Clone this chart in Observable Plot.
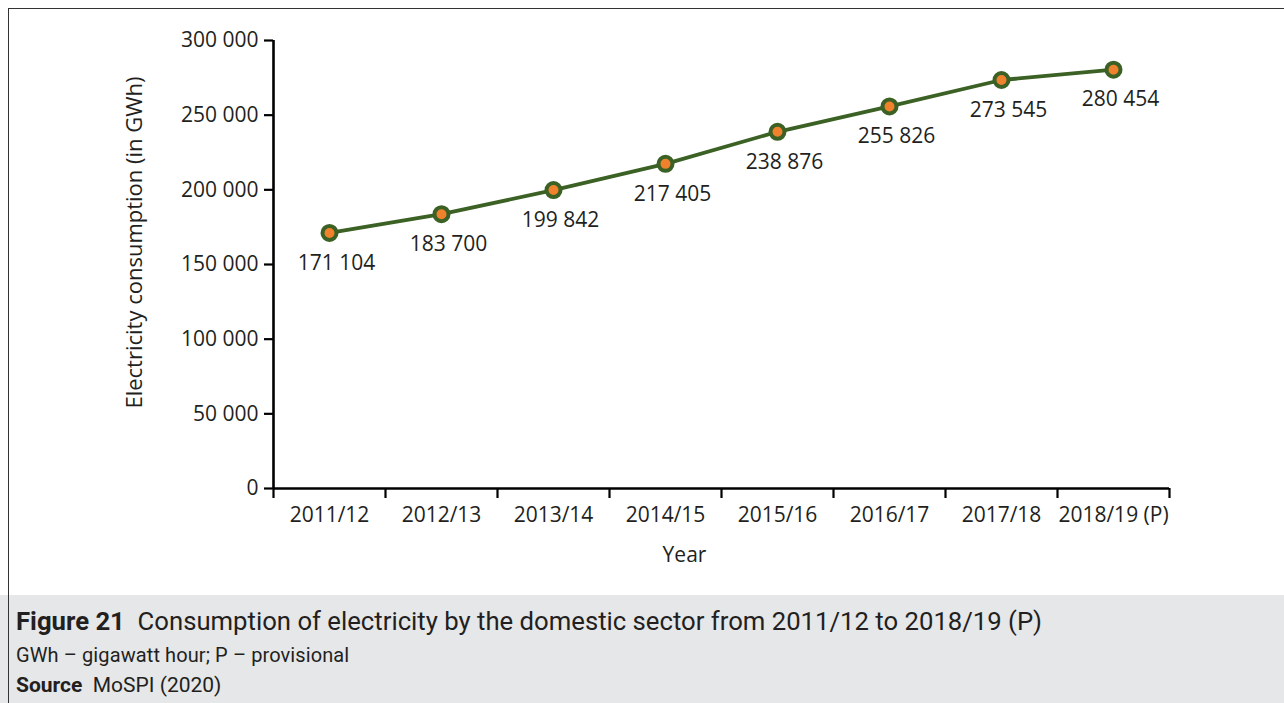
<!DOCTYPE html>
<html>
<head>
<meta charset="utf-8">
<script src="https://cdn.jsdelivr.net/npm/d3@7"></script>
<script src="https://cdn.jsdelivr.net/npm/@observablehq/plot@0.6"></script>
<style>
  html, body { margin: 0; padding: 0; background: #fff; }
  #wrap { position: relative; width: 1284px; height: 703px; overflow: hidden; }
  #chart { position: absolute; left: 0; top: 0; }
  #caption { position: absolute; left: 0; top: 595px; width: 1284px; height: 108px; background: #e6e7e9; }
  #frame { position: absolute; left: 8px; top: 8px; right: 0; bottom: 0; border-top: 1.6px solid #333; border-left: 1.6px solid #333; pointer-events: none; }
  .cap { position: absolute; left: 16px; font-family: Roboto, "Liberation Sans", sans-serif; color: #231f20; white-space: nowrap; line-height: 1.2; }
  #t1 { top: 606px; font-size: 25.7px; }
  #t2 { top: 643px; font-size: 20px; letter-spacing: 0.1px; }
  #t3 { top: 673px; font-size: 21px; }
  b { font-weight: 700; }
</style>
</head>
<body>
<div id="wrap">
  <div id="chart"></div>
  <div id="caption"></div>
  <div class="cap" id="t1"><b>Figure 21</b>&nbsp;&nbsp;Consumption of electricity by the domestic sector from 2011/12 to 2018/19 (P)</div>
  <div class="cap" id="t2">GWh – gigawatt hour; P – provisional</div>
  <div class="cap" id="t3"><b>Source</b>&nbsp;&nbsp;MoSPI (2020)</div>
  <div id="frame"></div>
</div>
<script>
const years = ["2011/12", "2012/13", "2013/14", "2014/15", "2015/16", "2016/17", "2017/18", "2018/19 (P)"];
const consumption = [171104, 183700, 199842, 217405, 238876, 255826, 273545, 280454];
const yTicks = [0, 50000, 100000, 150000, 200000, 250000, 300000];
const yLabel = "Electricity consumption (in GWh)";
const xLabel = "Year";

const data = years.map((y, i) => ({year: y, i: i + 0.5, value: consumption[i]}));
const fmt = d => d3.format(",")(d).replace(/,/g, " ");
const green = "#3b6124";
const orange = "#f0822d";
const txt = "#231f20";

const chart = Plot.plot({
  width: 1284,
  height: 595,
  marginLeft: 273,
  marginRight: 115,
  marginTop: 40,
  marginBottom: 107,
  style: {fontFamily: "'Open Sans', sans-serif", fontSize: "21px", color: txt, background: "transparent"},
  x: {domain: [0, years.length], axis: null},
  y: {domain: [0, 300000], axis: null},
  marks: [
    Plot.axisY({ticks: yTicks, tickSize: 9, tickPadding: 6, tickFormat: fmt, strokeWidth: 2.2, stroke: "#000", fontSize: 21, label: null, fill: txt}),
    Plot.axisX({ticks: d3.range(years.length + 1), tickSize: 10, tickFormat: () => "", strokeWidth: 2.2, stroke: "#000", label: null}),
    Plot.axisX({ticks: d3.range(years.length).map(i => i + 0.5), tickSize: 0, tickPadding: 19, tickFormat: d => years[Math.floor(d)], fontSize: 21, label: null, fill: txt}),
    Plot.ruleX([0], {y1: 0, y2: 300000, stroke: "#000", strokeWidth: 2.6}),
    Plot.ruleY([0], {x1: 0, x2: years.length, stroke: "#000", strokeWidth: 2.6}),
    Plot.line(data, {x: "i", y: "value", stroke: green, strokeWidth: 3.8}),
    Plot.dot(data, {x: "i", y: "value", r: 7, fill: orange, stroke: green, strokeWidth: 4}),
    Plot.text(data, {x: "i", y: "value", text: d => fmt(d.value), dy: 30, dx: 7, fontSize: 21, fill: txt}),
    Plot.text([yLabel], {frameAnchor: "left", textAnchor: "middle", lineAnchor: "middle", text: d => d, rotate: -90, dx: -139, dy: -22, fontSize: 22, fill: txt}),
    Plot.text([xLabel], {frameAnchor: "bottom", textAnchor: "middle", lineAnchor: "middle", text: d => d, dx: -37, dy: 67, fontSize: 21, fill: txt})
  ]
});
document.getElementById("chart").appendChild(chart);
</script>
</body>
</html>
